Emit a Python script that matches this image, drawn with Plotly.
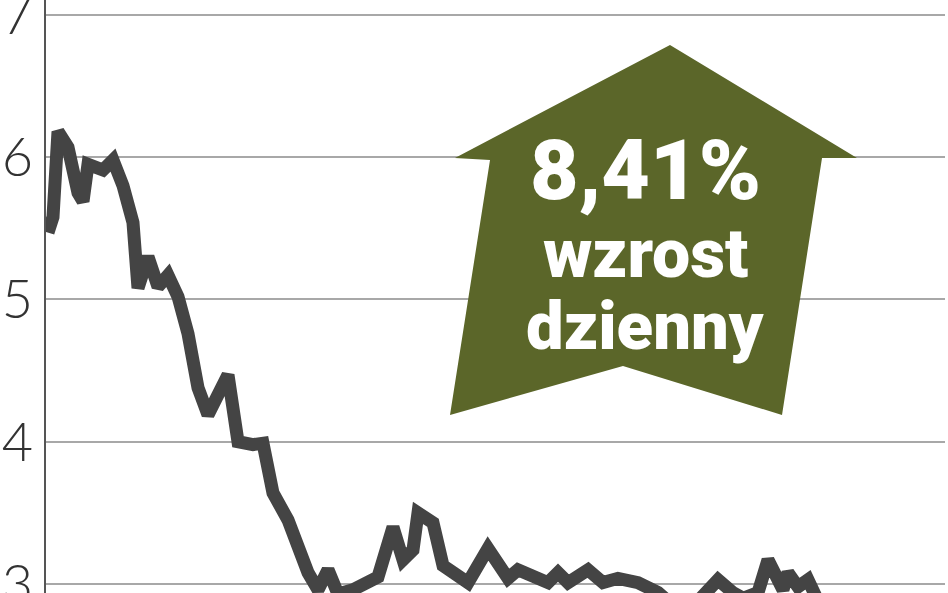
import plotly.graph_objects as go

# trading sessions (index) and closing price
sessions = [0, 1, 2, 4, 6, 7, 8, 10, 11, 13, 15, 17, 18, 20, 22, 24, 26, 28,
            29, 30, 32, 34, 36, 38, 41, 43, 45, 48, 52, 54, 56, 58, 61, 66,
            69, 71, 73, 74, 77, 79, 84, 88, 92, 94, 98, 100, 102, 104, 108,
            111, 114, 118, 122, 125, 130, 134, 137, 139, 142, 144, 147, 148,
            150, 152, 154]
prices = [5.47, 5.58, 6.18, 6.07, 5.75, 5.69, 5.95, 5.93, 5.91, 5.98, 5.80,
          5.54, 5.08, 5.30, 5.09, 5.17, 5.02, 4.76, 4.57, 4.38, 4.19, 4.31,
          4.47, 4.00, 3.98, 3.99, 3.64, 3.45, 3.08, 2.96, 3.10, 2.93, 2.96,
          3.05, 3.40, 3.17, 3.24, 3.50, 3.43, 3.13, 3.01, 3.25, 3.04, 3.10,
          3.03, 3.01, 3.08, 3.01, 3.10, 3.01, 3.04, 3.01, 2.94, 2.85, 2.88,
          3.03, 2.94, 2.90, 2.94, 3.17, 2.96, 3.08, 2.98, 3.03, 2.88]
y_ticks = [3, 4, 5, 6, 7]

W, H = 948, 593
L, R = 46, 3


def to_paper(px, py):
    return (px - L) / (W - L - R), 1 - py / H


# arrow outline, in screen pixels
arrow_px = [(670, 45), (857, 158), (822, 158), (782, 415), (623, 366),
            (450, 415), (490, 160), (455, 158)]
path = "M " + " L ".join(
    f"{x:.4f},{y:.4f}" for x, y in (to_paper(*p) for p in arrow_px)) + " Z"

fig = go.Figure()
fig.add_trace(go.Scatter(
    x=sessions, y=prices, mode="lines",
    line=dict(color="#444444", width=13),
    hoverinfo="skip",
))

fig.add_shape(type="path", path=path, xref="paper", yref="paper",
              fillcolor="#5b6629", line=dict(width=0), layer="above")

text_font = dict(family="Roboto", color="white", weight=900)
for txt, ypx, size in [("8,41%", 170, 84), ("wzrost", 254, 68),
                       ("dzienny", 326, 67)]:
    xp, yp = to_paper(645, ypx)
    fig.add_annotation(x=xp, y=yp, xref="paper", yref="paper", text=txt,
                       showarrow=False, xanchor="center", yanchor="middle",
                       font=dict(size=size, **text_font))

fig.update_layout(
    width=W, height=H,
    margin=dict(l=L, r=R, t=0, b=0),
    paper_bgcolor="white", plot_bgcolor="white",
    showlegend=False,
    xaxis=dict(range=[-0.4, 179.4], visible=False),
    yaxis=dict(
        range=[2.937, 7.105], tickvals=y_ticks,
        showgrid=True, gridcolor="#a8a8a8", gridwidth=2,
        zeroline=False, showline=True, linecolor="#555555", linewidth=2,
        ticks="", ticklabelstandoff=0, automargin=False,
        ticklabeloverflow="allow",
        tickfont=dict(family="Lato", size=54, color="#333333", weight=300),
    ),
)

# drop the default page margin so the chart sits flush in the window
fig.write_html("out.html", config={"displayModeBar": False},
               post_script="document.body.style.margin='0';")
